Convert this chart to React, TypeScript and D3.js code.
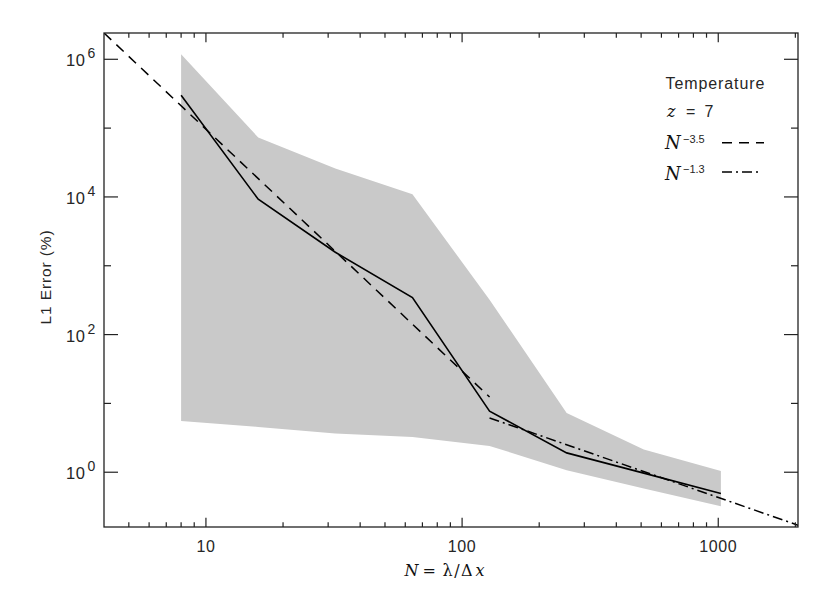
import React from "react";
import * as d3 from "d3";

// ---- data ----
const resolutionN = [8, 16, 32, 64, 128, 256, 512, 1024];
const errMedian = [3.0e5, 9.25e3, 1.57e3, 345, 7.7, 1.91, 0.97, 0.49];
const errUpper = [1.18e6, 7.3e4, 2.58e4, 1.09e4, 321, 7.27, 2.14, 1.04];
const errLower = [5.56, 4.55, 3.65, 3.26, 2.41, 1.07, 0.58, 0.32];

const steepFitN = [4, 128];
const steepFitErr = [2.41e6, 12.4];
const shallowFitN = [128, 2048];
const shallowFitErr = [6.15, 0.17];

const xMajorTicks = [10, 100, 1000];
const xMajorLabels = ["10", "100", "1000"];
const xMinorTicks = [5, 6, 7, 8, 9, 20, 30, 40, 50, 60, 70, 80, 90, 200, 300, 400, 500, 600, 700, 800, 900, 2000];
const yMajorTicks = [1, 1e2, 1e4, 1e6];
const yMajorExponents = ["0", "2", "4", "6"];
const yMinorTicks = [1e1, 1e3, 1e5];

const legendTitle = "Temperature";
const legendRedshift = "7";
const legendSteepExp = "\u22123.5";
const legendShallowExp = "\u22121.3";

export default function App() {
  const W = 830, H = 593;
  const X0 = 104, X1 = 798, Y0 = 33, Y1 = 527;
  const x = d3.scaleLog().domain([4, 2048]).range([X0, X1]);
  const y = d3.scaleLog().domain([0.16, 2.41e6]).range([Y1, Y0]);

  const band = d3
    .area<number>()
    .x((_, i) => x(resolutionN[i]))
    .y0((_, i) => y(errLower[i]))
    .y1((_, i) => y(errUpper[i]));
  const line = d3
    .line<number>()
    .x((_, i) => x(resolutionN[i]))
    .y((d) => y(d));
  const fitLine = (ns: number[], es: number[]) =>
    d3.line<number>().x((d) => x(d)).y((_, i) => y(es[i]))(ns) || "";

  const axisColor = "#222";
  const textColor = "#262626";
  const sans = "'Liberation Sans', Arial, sans-serif";
  const serif = "'DejaVu Serif', 'Liberation Serif', serif";
  const xMajLen = 9.3, xMinLen = 4.7, yMajLen = 14, yMinLen = 7;
  const dashed = "10,7";
  const dashDot = "10,4,2,4";

  return (
    <svg width={W} height={H} style={{ position: "absolute", left: 0, top: 0, background: "#fff" }}>
      <defs>
        <clipPath id="plotClip">
          <rect x={X0} y={Y0} width={X1 - X0} height={Y1 - Y0} />
        </clipPath>
      </defs>
      <rect x={0} y={0} width={W} height={H} fill="#fff" />
      <g clipPath="url(#plotClip)">
        <path d={band(errMedian) || ""} fill="#c9c9c9" stroke="none" />
        <path d={line(errMedian) || ""} fill="none" stroke="#000" strokeWidth={1.6} />
        <path d={fitLine(steepFitN, steepFitErr)} fill="none" stroke="#000" strokeWidth={1.5} strokeDasharray={dashed} />
        <path d={fitLine(shallowFitN, shallowFitErr)} fill="none" stroke="#000" strokeWidth={1.5} strokeDasharray={dashDot} />
      </g>

      {/* frame */}
      <rect x={X0} y={Y0} width={X1 - X0} height={Y1 - Y0} fill="none" stroke={axisColor} strokeWidth={1.3} />

      {/* x ticks */}
      {xMajorTicks.map((t) => (
        <g key={"xm" + t}>
          <line x1={x(t)} x2={x(t)} y1={Y1} y2={Y1 - xMajLen} stroke={axisColor} strokeWidth={1.2} />
          <line x1={x(t)} x2={x(t)} y1={Y0} y2={Y0 + xMajLen} stroke={axisColor} strokeWidth={1.2} />
        </g>
      ))}
      {xMinorTicks.map((t) => (
        <g key={"xn" + t}>
          <line x1={x(t)} x2={x(t)} y1={Y1} y2={Y1 - xMinLen} stroke={axisColor} strokeWidth={1.2} />
          <line x1={x(t)} x2={x(t)} y1={Y0} y2={Y0 + xMinLen} stroke={axisColor} strokeWidth={1.2} />
        </g>
      ))}
      {xMajorTicks.map((t, i) => (
        <text key={"xl" + t} x={x(t)} y={552} textAnchor="middle" fontFamily={sans} fontSize={16} letterSpacing={0.6} fill={textColor}>
          {xMajorLabels[i]}
        </text>
      ))}

      {/* y ticks */}
      {yMajorTicks.map((t) => (
        <g key={"ym" + t}>
          <line x1={X0} x2={X0 + yMajLen} y1={y(t)} y2={y(t)} stroke={axisColor} strokeWidth={1.2} />
          <line x1={X1} x2={X1 - yMajLen} y1={y(t)} y2={y(t)} stroke={axisColor} strokeWidth={1.2} />
        </g>
      ))}
      {yMinorTicks.map((t) => (
        <g key={"yn" + t}>
          <line x1={X0} x2={X0 + yMinLen} y1={y(t)} y2={y(t)} stroke={axisColor} strokeWidth={1.2} />
          <line x1={X1} x2={X1 - yMinLen} y1={y(t)} y2={y(t)} stroke={axisColor} strokeWidth={1.2} />
        </g>
      ))}
      {yMajorTicks.map((t, i) => (
        <g key={"yl" + t} fontFamily={sans} fill={textColor}>
          <text x={85.5} y={y(t) + 7} textAnchor="end" fontSize={16.5} letterSpacing={0.6}>10</text>
          <text x={87.5} y={y(t) - 1} textAnchor="start" fontSize={14}>{yMajorExponents[i]}</text>
        </g>
      ))}

      {/* axis titles */}
      <text
        transform={`translate(51, ${(Y0 + Y1) / 2 - 3}) rotate(-90)`}
        textAnchor="middle"
        fontFamily={sans}
        fontSize={15.5}
        fill={textColor}
        letterSpacing={0.9}
      >
        L1 Error (%)
      </text>
      <g fontFamily={serif} fontSize={16} fill="#111">
        <text x={404.5} y={575.5} fontStyle="italic">N</text>
        <text x={422.5} y={575.5}>=</text>
        <text x={442.5} y={575.5} letterSpacing={1.5}>λ/Δ</text>
        <text x={475.5} y={575.5} fontStyle="italic">x</text>
      </g>

      {/* legend */}
      <text x={665.5} y={89} fontFamily={sans} fontSize={16} fill={textColor} letterSpacing={0.9}>
        {legendTitle}
      </text>
      <text x={667} y={116.7} fontFamily={serif} fontSize={16} fontStyle="italic" fill="#111">z</text>
      <text x={686} y={116.7} fontFamily={sans} fontSize={16} fill={textColor}>=</text>
      <text x={704.5} y={116.7} fontFamily={sans} fontSize={16} fill={textColor}>{legendRedshift}</text>

      <text x={665} y={149} fontFamily={serif} fontSize={18} fontStyle="italic" fill="#111">N</text>
      <text x={683} y={142.7} fontFamily={sans} fontSize={11} fill={textColor}>{legendSteepExp}</text>
      <line x1={722} x2={764} y1={142.7} y2={142.7} stroke="#000" strokeWidth={1.5} strokeDasharray={dashed} />

      <text x={665} y={179.5} fontFamily={serif} fontSize={18} fontStyle="italic" fill="#111">N</text>
      <text x={683} y={172.5} fontFamily={sans} fontSize={11} fill={textColor}>{legendShallowExp}</text>
      <line x1={722} x2={760} y1={172} y2={172} stroke="#000" strokeWidth={1.5} strokeDasharray={dashDot} />
    </svg>
  );
}
